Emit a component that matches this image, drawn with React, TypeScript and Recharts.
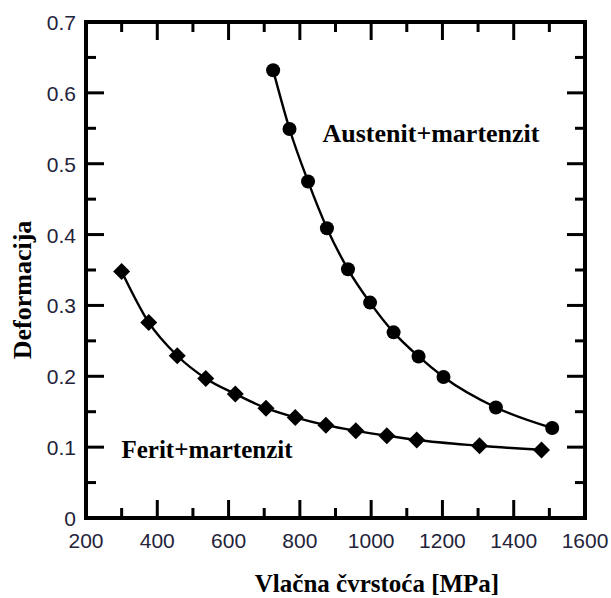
import { Line, LineChart, ReferenceLine, XAxis, YAxis } from "recharts";

const FERIT_X = [300, 376, 456, 536, 619, 705, 787, 873, 957, 1044, 1128, 1304, 1478];
const FERIT_Y = [0.348, 0.276, 0.229, 0.197, 0.175, 0.155, 0.142, 0.131, 0.123, 0.116, 0.11, 0.102, 0.096];

const AUST_X = [725, 771, 823, 876, 935, 997, 1063, 1133, 1203, 1350, 1508];
const AUST_Y = [0.632, 0.549, 0.475, 0.409, 0.351, 0.304, 0.262, 0.228, 0.199, 0.156, 0.127];

const X_TICKS = [200, 300, 400, 500, 600, 700, 800, 900, 1000, 1100, 1200, 1300, 1400, 1500, 1600];
const Y_TICKS = [0, 0.05, 0.1, 0.15, 0.2, 0.25, 0.3, 0.35, 0.4, 0.45, 0.5, 0.55, 0.6, 0.65, 0.7];

const ferit = FERIT_X.map((x, i) => ({ x, y: FERIT_Y[i] }));
const austenit = AUST_X.map((x, i) => ({ x, y: AUST_Y[i] }));

const INK = "#000";
const LABEL = "#23233a";
const SANS = "'Liberation Sans', Arial, sans-serif";
const SERIF = "'Liberation Serif', 'Times New Roman', serif";

const isMajorX = (v: number) => v % 200 === 0;
const isMajorY = (v: number) => Math.round(v * 100) % 10 === 0;

function BottomLabel(props: any) {
  const { x, y, payload } = props;
  if (!isMajorX(payload.value)) return <g />;
  return (
    <text x={x} y={y + 30} textAnchor="middle" fontSize={21} fontFamily={SANS} fill={LABEL}>
      {payload.value}
    </text>
  );
}

function LeftLabel(props: any) {
  const { x, y, payload } = props;
  const v = payload.value;
  if (!isMajorY(v)) return <g />;
  return (
    <text x={x - 10} y={y + 8} textAnchor="end" fontSize={21} fontFamily={SANS} fill={LABEL}>
      {v === 0 ? "0" : v.toFixed(1)}
    </text>
  );
}

// inward tick marks at both ends of a full-height / full-width reference line;
// the outermost ticks also draw the whole edge of the frame
function tickShape(len: number, edge: boolean) {
  return (props: any) => {
    const { x1, y1, x2, y2 } = props;
    if (x1 === x2) {
      const top = Math.min(y1, y2);
      const bot = Math.max(y1, y2);
      return (
        <g>
          <rect x={x1 - 1.5} y={top} width={3} height={len} fill={INK} />
          <rect x={x1 - 1.5} y={bot - len} width={3} height={len} fill={INK} />
          {edge && <rect x={x1 - 2} y={top - 2} width={4} height={bot - top + 4} fill={INK} />}
        </g>
      );
    }
    const left = Math.min(x1, x2);
    const right = Math.max(x1, x2);
    return (
      <g>
        <rect x={left} y={y1 - 1.5} width={len} height={3} fill={INK} />
        <rect x={right - len} y={y1 - 1.5} width={len} height={3} fill={INK} />
        {edge && <rect x={left - 2} y={y1 - 2} width={right - left + 4} height={4} fill={INK} />}
      </g>
    );
  };
}

function Diamond(props: any) {
  const { cx, cy } = props;
  const s = 8.5;
  return (
    <polygon
      points={`${cx},${cy - s} ${cx + s},${cy} ${cx},${cy + s} ${cx - s},${cy}`}
      fill={INK}
    />
  );
}

function Dot(props: any) {
  const { cx, cy } = props;
  return <circle cx={cx} cy={cy} r={7} fill={INK} />;
}

export default function App() {
  const xEdge = (v: number) => v === X_TICKS[0] || v === X_TICKS[X_TICKS.length - 1];
  const yEdge = (v: number) => v === Y_TICKS[0] || v === Y_TICKS[Y_TICKS.length - 1];
  return (
    <div style={{ position: "absolute", left: 0, top: 0, width: 611, height: 598, background: "#fff" }}>
      <LineChart
        width={611}
        height={598}
        margin={{ top: 22, right: 26, left: 0, bottom: 0 }}
      >
        <XAxis
          type="number"
          dataKey="x"
          domain={[200, 1600]}
          ticks={X_TICKS}
          interval={0}
          height={80}
          tickSize={0}
          tickMargin={0}
          axisLine={false}
          tickLine={false}
          tick={<BottomLabel />}
        />
        <YAxis
          type="number"
          domain={[0, 0.7]}
          ticks={Y_TICKS}
          interval={0}
          width={86}
          tickSize={0}
          tickMargin={0}
          axisLine={false}
          tickLine={false}
          tick={<LeftLabel />}
        />
        {X_TICKS.map((v) => (
          <ReferenceLine
            key={`xt${v}`}
            x={v}
            stroke={INK}
            ifOverflow="visible"
            shape={tickShape(isMajorX(v) ? 18 : 10, xEdge(v))}
          />
        ))}
        {Y_TICKS.map((v) => (
          <ReferenceLine
            key={`yt${v}`}
            y={v}
            stroke={INK}
            ifOverflow="visible"
            shape={tickShape(isMajorY(v) ? 18 : 10, yEdge(v))}
          />
        ))}
        <Line
          data={ferit}
          dataKey="y"
          type="monotone"
          stroke={INK}
          strokeWidth={2.4}
          dot={<Diamond />}
          activeDot={false}
          isAnimationActive={false}
        />
        <Line
          data={austenit}
          dataKey="y"
          type="monotone"
          stroke={INK}
          strokeWidth={2.4}
          dot={<Dot />}
          activeDot={false}
          isAnimationActive={false}
        />
      </LineChart>
      <svg
        width={611}
        height={598}
        style={{ position: "absolute", left: 0, top: 0, pointerEvents: "none" }}
      >
        <g fontFamily={SERIF} fontWeight="bold" fill="#000">
          <text x={431} y={142} textAnchor="middle" fontSize={26}>
            Austenit+martenzit
          </text>
          <text x={207} y={458} textAnchor="middle" fontSize={25}>
            Ferit+martenzit
          </text>
          <text x={377} y={592} textAnchor="middle" fontSize={25}>
            Vlačna čvrstoća [MPa]
          </text>
          <text x={31} y={290} textAnchor="middle" fontSize={26} transform="rotate(-90 31 290)">
            Deformacija
          </text>
        </g>
      </svg>
    </div>
  );
}
